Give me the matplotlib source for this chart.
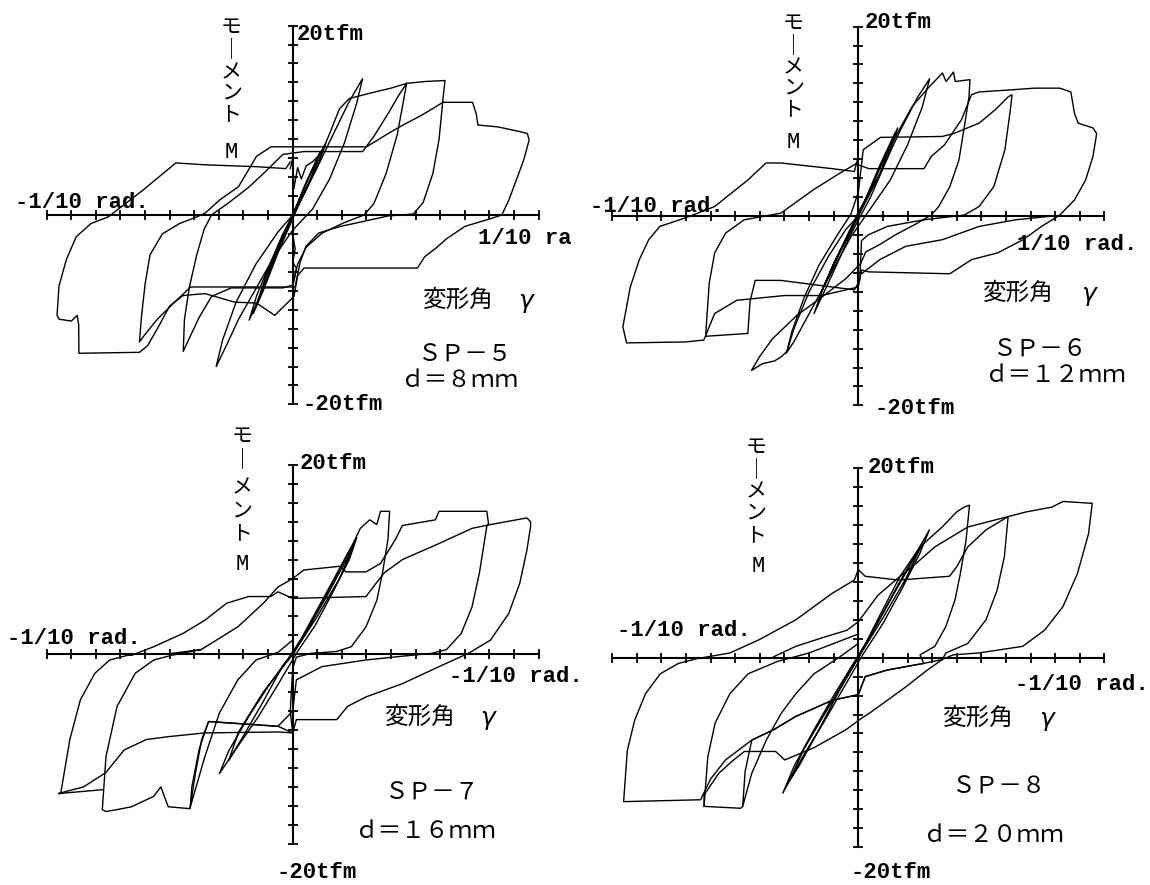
import matplotlib
matplotlib.use("Agg")
import matplotlib.pyplot as plt

# x: deformation angle in 1/100 rad, y: moment in tfm

# ---- SP-5 (d = 8 mm) ----
sp5_small = [(0, 0), (0.5, 3.2), (1.0, 6.0), (1.35, 7.6), (1.05, 5.4), (0.5, 2.4), (0, 0), (-0.5, -3.0),
             (-1.0, -6.4), (-1.4, -9.0), (-1.77, -11.1), (-1.45, -8.4), (-0.9, -5.0), (-0.4, -2.0), (0, 0),
             (0.6, 3.6), (1.1, 6.6), (0.7, 3.6), (0.2, 0.8), (-0.6, -4.0), (-1.2, -8.0), (-1.6, -10.4),
             (-1.1, -6.6), (-0.5, -2.8), (0, 0)]
sp5_spikes = [(-0.1, 4.9), (0.0, 6.0), (0.05, 2.8), (0.2, 5.0), (0.35, 3.8), (0.55, 5.2), (0.8, 5.6), (1.1, 6.4)]
sp5_spikes2 = [(0.0, -2.0), (0.1, -3.6), (0.0, -5.0), (0.15, -5.6), (0.05, -7.0)]
sp5_c1 = [(0, 0), (0.9, 4.5), (1.7, 8.8), (2.3, 12.0), (2.84, 14.4), (2.6, 11.8), (2.1, 7.6), (1.5, 3.8),
          (0.8, 0.6), (0, -1.6), (-0.8, -4.6), (-1.5, -7.8), (-2.2, -11.0), (-2.7, -13.8), (-3.11, -16.0),
          (-2.85, -13.2), (-2.3, -9.2), (-1.5, -5.2), (-0.6, -1.8), (0, 0)]
sp5_c2 = [(0, 0), (0.8, 4.2), (1.5, 8.6), (1.9, 11.2), (2.3, 12.3), (3.2, 12.9), (4.0, 13.4), (4.63, 13.9),
          (4.5, 12.0), (4.25, 8.5), (3.8, 4.4), (3.3, 1.2), (2.9, 0), (2.1, -0.8), (1.2, -1.9), (0.55, -3.4),
          (0.2, -5.2), (0.0, -7.4), (-0.4, -7.7), (-2.5, -7.7), (-3.3, -8.6), (-3.8, -10.8), (-4.2, -13.0),
          (-4.45, -14.4), (-4.4, -11.0), (-4.2, -7.6), (-3.9, -4.2), (-3.6, -1.5), (-3.3, 0), (-2.6, 1.3),
          (-1.8, 2.9), (-1.1, 4.6), (-0.4, 6.4), (0.46, 6.7), (2.84, 6.7), (3.3, 8.3), (3.9, 10.8),
          (4.3, 12.6), (4.63, 13.9)]
sp5_c3 = [(4.63, 13.9), (5.4, 14.1), (6.19, 14.2), (6.1, 12.0), (5.95, 8.0), (5.7, 4.4), (5.3, 1.3),
          (4.9, 0.1), (3.88, -0.1), (2.84, -0.7), (1.95, -1.2), (1.06, -1.9), (0.54, -3.3), (0.3, -5.0),
          (0.1, -7.6), (-1.3, -7.6), (-4.15, -7.6), (-4.8, -9.2), (-5.5, -11.0), (-6.0, -12.6), (-6.23, -13.4),
          (-6.15, -10.8), (-6.0, -7.3), (-5.8, -4.2), (-5.3, -2.0), (-4.6, -0.9), (-3.9, -0.2), (-3.56, 0.2),
          (-2.96, 1.6), (-2.2, 3.0), (-1.47, 6.2), (-0.88, 7.2), (3.0, 7.2), (3.88, 8.6), (4.48, 9.5),
          (5.22, 10.5), (6.11, 11.9), (7.31, 11.9), (7.46, 10.7), (7.53, 9.5), (8.35, 9.3), (9.24, 8.8),
          (9.54, 8.6)]
sp5_c4 = [(9.54, 8.6), (9.61, 7.9), (9.39, 5.8), (9.09, 3.7), (8.79, 1.6), (8.5, 0), (7.9, -0.5), (7.0, -1.2),
          (6.26, -2.5), (5.82, -3.5), (5.37, -4.4), (5.07, -5.6), (0.46, -5.6), (0.2, -6.4), (0.05, -8.6),
          (-0.73, -10.6), (-1.47, -9.3), (-2.37, -9.2), (-3.56, -8.3), (-4.45, -8.5), (-5.0, -9.6),
          (-5.5, -12.0), (-5.9, -13.8), (-6.23, -14.5), (-8.69, -14.6), (-8.7, -11.6), (-8.76, -10.6),
          (-9.0, -11.2), (-9.5, -11.0), (-9.58, -10.6), (-9.5, -7.5), (-9.2, -4.7), (-8.8, -2.3), (-8.2, -0.9),
          (-7.5, -0.2), (-6.1, 2.6), (-4.75, 5.5), (-3.56, 5.3), (-1.47, 5.1), (-0.28, 4.9), (-0.1, 5.6)]

# ---- SP-6 (d = 12 mm) ----
sp6_small = [(0, 0), (0.6, 3.5), (1.2, 7.0), (1.6, 9.3), (1.2, 6.2), (0.5, 2.0), (-0.4, -2.4), (-1.1, -6.4),
             (-1.8, -10.3), (-1.4, -7.4), (-0.7, -3.6), (0, 0), (0.9, 5.5), (1.5, 8.8), (0.9, 4.6), (0, 0.4),
             (-0.9, -4.5), (-1.6, -8.6), (-1.0, -5.0), (0, 0)]
sp6_c1 = [(0, 0), (0.8, 4), (1.7, 9), (2.4, 12.5), (2.9, 14.5), (2.6, 11.5), (2.0, 7.5), (1.3, 3.8), (0.5, 0.8),
          (-0.3, -2.2), (-1.2, -6.5), (-2.1, -10.8), (-2.6, -13.2), (-2.93, -14.5), (-2.6, -11.8), (-2.0, -8.0),
          (-1.2, -4.2), (-0.5, -1.4), (0, 0)]
sp6_c2 = [(0, 0), (0.8, 4.6), (1.6, 8.8), (2.2, 11.6), (2.8, 13.4), (3.42, 15.1), (3.57, 14.2), (3.87, 15.2),
          (3.94, 14.2), (4.54, 14.4), (4.5, 12.6), (4.31, 9.4), (4.09, 5.9), (3.72, 3.1), (3.27, 1.0),
          (2.97, 0.1), (2.3, -0.9), (1.5, -2.0), (0.88, -3.0), (0.3, -3.8), (0.1, -5.0), (-0.5, -6.6),
          (-1.5, -8.6), (-2.5, -10.5), (-3.5, -13.0), (-4.0, -14.8), (-4.34, -16.3), (-3.9, -15.6),
          (-3.4, -15.3), (-3.15, -14.9), (-2.9, -14.3), (-2.7, -12.2), (-2.2, -8.6), (-1.6, -5.2),
          (-0.9, -2.2), (-0.3, 0.2), (0, 2.5)]
sp6_c3 = [(0, 2.5), (0.2, 7.0), (0.9, 8.3), (3.42, 8.4), (3.87, 8.7), (4.91, 9.8), (5.6, 11.3), (6.1, 12.6),
          (6.25, 12.8), (6.18, 11.2), (5.96, 7.0), (5.51, 3.1), (4.91, 1.0), (4.31, 0.1), (2.67, -0.4),
          (1.18, -1.1), (0.4, -2.0), (0.13, -2.6), (0.06, -6.8), (-0.16, -7.8), (-1.06, -7.5), (-2.25, -7.1),
          (-3.15, -6.8), (-4.19, -6.8), (-4.4, -9.0), (-4.49, -12.4), (-6.2, -12.7), (-6.2, -12.4),
          (-6.06, -7.1), (-5.84, -3.9), (-5.39, -1.8), (-4.64, -0.4), (-3.15, 0.3), (-1.81, 2.8),
          (-0.7, 4.6), (-0.1, 5.5)]
sp6_c4 = [(-0.1, 5.5), (0.43, 5.0), (2.67, 5.0), (2.97, 6.3), (3.5, 7.5), (4.2, 10.2), (4.6, 12.8), (4.9, 13.1),
          (6.1, 13.3), (7.15, 13.5), (8.19, 13.5), (8.64, 13.1), (8.79, 10.8), (8.94, 9.8), (9.54, 9.3),
          (9.69, 8.7), (9.54, 6.3), (9.24, 3.8), (8.79, 1.7), (8.19, 0.1), (7.45, -1.1), (6.7, -2.5),
          (5.66, -3.9), (4.61, -4.6), (3.72, -6.1), (0.43, -5.9), (0.13, -5.7), (0.0, -7.5), (-1.5, -8.4),
          (-3.0, -8.4), (-4.94, -8.9), (-5.84, -10.3), (-6.28, -13.1), (-7.03, -13.3), (-9.42, -13.4),
          (-9.57, -11.7), (-9.27, -7.5), (-8.9, -4.6), (-8.52, -2.5), (-8.07, -1.1), (-7.03, -0.2),
          (-5.84, 1.0), (-4.49, 3.8), (-3.75, 5.6), (-3.15, 5.6), (-1.06, 5.0), (-0.16, 4.7), (0.0, 6.3)]
sp6_c5 = [(7.9, 0.0), (6.4, -0.4), (4.91, -1.1), (3.42, -2.5), (1.93, -3.2), (0.88, -4.6), (0.13, -6.1)]

# ---- SP-7 (d = 16 mm) ----
sp7_small = [(0, 0), (0.8, 3.8), (1.6, 7.6), (2.2, 10.5), (2.6, 12.3), (2.3, 10.0), (1.6, 6.4), (0.9, 3.0),
             (0.2, 0.3), (-0.6, -3.2), (-1.4, -6.6), (-2.2, -9.6), (-2.98, -12.6), (-2.6, -10.2), (-1.8, -6.6),
             (-1.0, -3.4), (-0.2, -0.5), (0.6, 2.6), (1.4, 6.2), (2.1, 9.6), (2.5, 11.6), (1.9, 8.0),
             (1.0, 4.0), (0, 0), (-0.4, -1.2), (-1.2, -5.0), (-2.0, -8.6), (-2.6, -11.2), (-2.2, -8.2),
             (-1.2, -4.0), (0, 0)]
sp7_c1 = [(0, 0), (0.9, 4.0), (1.8, 8.4), (2.4, 11.4), (2.75, 13.3), (3.13, 14.2), (3.42, 13.7), (3.57, 15.1),
          (3.94, 15.1), (3.87, 12.1), (3.65, 8.6), (3.42, 5.7), (2.98, 2.9), (2.38, 0.8), (1.79, 0.3),
          (0.74, 0.1), (0.15, -0.3), (0.0, -1.5)]
sp7_c2 = [(0.0, -1.5), (-0.1, -6.0), (0.0, -8.3), (-0.6, -7.6), (-3.42, -7.1), (-3.7, -9.0), (-3.95, -12.5),
          (-4.17, -16.2), (-3.57, -10.8), (-2.98, -6.2), (-2.23, -2.7), (-1.49, -0.6), (-0.6, 0.2), (0, 1.5)]
sp7_c3 = [(-5.2, 0.0), (-3.72, 0.5), (-2.23, 2.9), (-1.19, 5.4), (-0.6, 7.1), (0, 8.0), (0.45, 8.9),
          (1.93, 9.3), (2.16, 8.7), (2.98, 8.7), (3.57, 9.6), (4.17, 12.1), (4.46, 13.6), (5.8, 14.2),
          (5.95, 15.1), (7.89, 15.1), (7.96, 13.8), (7.89, 13.5), (7.59, 8.6), (7.29, 5.0), (6.85, 2.2),
          (6.25, 0.5), (5.65, 0.1), (4.46, -0.2), (2.98, -0.6), (1.19, -1.3), (0.15, -2.7), (0.0, -6.0),
          (-0.6, -7.6), (-3.42, -7.1), (-3.8, -10.0), (-4.1, -14.0), (-4.17, -16.3), (-5.06, -16.1),
          (-5.36, -14.0), (-5.65, -15.0), (-6.55, -16.1), (-7.14, -16.4), (-7.59, -16.6), (-7.74, -16.4),
          (-7.59, -10.8), (-7.14, -5.5), (-6.4, -2.0), (-5.65, -0.6), (-4.91, -0.1), (-3.72, 0.5)]
sp7_c4 = [(-6.55, -0.1), (-5.65, 0.8), (-4.46, 2.2), (-3.57, 3.6), (-2.68, 5.4), (-1.79, 6.1), (-0.89, 6.1),
          (-0.6, 6.6), (0, 5.9), (2.98, 6.1), (3.27, 7.1), (3.72, 8.6), (4.46, 10.0), (5.95, 11.7),
          (7.29, 13.3), (8.04, 13.7), (9.52, 14.4), (9.67, 14.0), (9.67, 13.5), (9.52, 11.0), (9.23, 7.5),
          (8.78, 4.3), (8.04, 1.5), (7.14, 0.1), (5.95, -1.3), (4.46, -3.1), (2.98, -4.5), (2.23, -5.5),
          (1.79, -6.9), (0.52, -6.9), (0.15, -6.9), (0.0, -8.3), (-0.6, -8.2), (-3.57, -8.3), (-5.06, -8.7),
          (-5.95, -9.0), (-6.85, -10.1), (-7.6, -12.5), (-8.5, -14.0), (-9.52, -14.7), (-9.43, -14.7),
          (-9.06, -9.0), (-8.63, -4.8), (-8.04, -2.0), (-7.44, -0.6), (-6.7, -0.1), (-6.55, -0.1)]
sp7_c5 = [(-9.5, -14.7), (-7.74, -14.3)]

# ---- SP-8 (d = 20 mm) ----
sp8_small = [(0, 0), (0.8, 3.8), (1.6, 7.6), (2.3, 10.8), (2.89, 13.5), (2.5, 11.0), (1.8, 7.4), (1.0, 3.6),
             (0.2, 0.4), (-0.6, -3.2), (-1.4, -6.8), (-2.2, -10.2), (-3.07, -14.3), (-2.6, -11.4),
             (-1.8, -7.6), (-1.0, -4.0), (-0.2, -0.6), (0.6, 2.8), (1.5, 7.0), (2.2, 10.2), (2.6, 12.0),
             (1.9, 8.2), (1.0, 4.2), (0, 0), (-0.8, -3.6), (-1.6, -7.6), (-2.4, -11.4), (-2.8, -13.0),
             (-2.2, -9.6), (-1.2, -5.2), (0, 0)]
sp8_c1 = [(0, 0), (0.9, 4.6), (1.7, 8.6), (2.51, 11.7), (3.41, 13.8), (4.0, 15.4), (4.3, 15.9), (4.52, 16.1),
          (4.38, 12.4), (4.15, 8.9), (3.93, 6.1), (3.56, 3.3), (3.11, 1.2), (2.51, 0.3), (2.66, -0.6),
          (1.18, -1.3), (0.28, -2.0), (0, -3.9), (-1.06, -4.5), (-2.54, -6.2), (-3.44, -7.6), (-4.33, -8.7),
          (-4.6, -12.0), (-4.7, -15.7), (-4.33, -12.2), (-3.74, -8.7), (-3.14, -5.9), (-2.54, -3.8),
          (-1.8, -1.7), (-0.8, 0), (0, 1.5)]
sp8_c2 = [(-3.44, 0.1), (-2.54, 1.2), (-1.35, 2.2), (-0.46, 2.9), (0, 3.8), (0.8, 6.6), (1.7, 8.6),
          (2.37, 10.0), (3.11, 11.7), (4.45, 13.8), (6.09, 14.9), (5.94, 10.7), (5.64, 7.1), (5.19, 4.0),
          (4.45, 1.5), (3.56, 0.5), (3.41, -0.2), (2.81, -1.3), (1.92, -3.1), (1.18, -4.5), (0.43, -5.9),
          (0.13, -6.4), (-0.5, -7.6), (-1.8, -9.5), (-2.99, -10.8), (-3.36, -9.9), (-4.63, -9.9),
          (-5.07, -10.8), (-5.67, -12.2), (-6.27, -14.5), (-6.27, -15.7), (-4.78, -15.9), (-4.7, -15.7)]
sp8_c3 = [(-6.27, -15.7), (-6.12, -10.5), (-5.82, -6.9), (-5.22, -3.8), (-4.48, -1.7), (-3.29, -0.4),
          (-2.0, 0.5), (-1.0, 1.5), (0, 2.5)]
sp8_c4 = [(0, 9.3), (0.28, 8.6), (1.62, 8.2), (3.71, 8.6), (4.0, 9.6), (4.45, 11.7), (5.19, 13.5),
          (6.09, 14.9), (6.83, 15.4), (7.87, 15.9), (8.32, 16.5), (9.51, 16.3), (9.36, 13.1), (8.91, 8.9),
          (8.32, 5.4), (7.57, 2.9), (6.68, 1.2), (4.9, 0.5), (3.85, 0.3), (3.41, -0.2), (2.66, -0.6),
          (1.18, -1.3), (0.28, -2.0), (0, -3.9), (-1.06, -4.5), (-2.54, -6.2), (-3.44, -7.6), (-4.33, -8.7),
          (-5.4, -10.8), (-6.0, -12.8), (-6.41, -15.0), (-9.54, -15.2), (-9.39, -9.8), (-9.09, -6.6),
          (-8.65, -3.8), (-8.05, -1.7), (-7.31, -0.6), (-6.56, -0.1), (-5.22, 0.5), (-4.03, 1.9),
          (-2.54, 4.0), (-1.06, 6.8), (-0.16, 8.2), (0, 9.3)]

sp5_loops = [sp5_small, sp5_spikes, sp5_spikes2, sp5_c1, sp5_c2, sp5_c3, sp5_c4]
sp6_loops = [sp6_small, sp6_c1, sp6_c2, sp6_c3, sp6_c4, sp6_c5]
sp7_loops = [sp7_small, sp7_c1, sp7_c2, sp7_c3, sp7_c4, sp7_c5]
sp8_loops = [sp8_small, sp8_c1, sp8_c2, sp8_c3, sp8_c4]

W, H = 1150, 885
UX, UY = 24.6, 9.47  # px per 1/100 rad, px per tfm

plt.rcParams['font.family'] = ['Noto Sans CJK JP', 'DejaVu Sans']
fig = plt.figure(figsize=(W / 100, H / 100), dpi=100)
fig.patch.set_facecolor('white')

LAT = ['Liberation Mono', 'DejaVu Sans Mono']


def panel(cx, cy, loops):
    ax = fig.add_axes([(cx - 11.5 * UX) / W, 1 - (cy + 22 * UY) / H, 23 * UX / W, 44 * UY / H])
    ax.patch.set_alpha(0)
    ax.set_xlim(-11.5, 11.5)
    ax.set_ylim(-22, 22)
    for s in ['top', 'right']:
        ax.spines[s].set_visible(False)
    ax.spines['left'].set_position(('data', 0))
    ax.spines['bottom'].set_position(('data', 0))
    ax.spines['left'].set_bounds(-20, 20)
    ax.spines['bottom'].set_bounds(-10, 10)
    for s in ['left', 'bottom']:
        ax.spines[s].set_linewidth(1.5)
    ax.set_xticks(range(-10, 11))
    ax.set_yticks(range(-20, 21, 2))
    ax.tick_params(direction='inout', length=7, width=1.3, labelbottom=False, labelleft=False)
    for lp in loops:
        xs, ys = zip(*lp)
        ax.plot(xs, ys, color='black', lw=1.0)
    return ax


def put(x, y, s, size, fam=None, ha='left', **kw):
    fig.text(x / W, 1 - y / H, s, fontsize=size, ha=ha, va='center',
             family=fam if fam else ['Noto Sans CJK JP', 'DejaVu Sans'], **kw)


def vlabel(x, ys):
    for ch, y in zip(['モ', '｜', 'メ', 'ン', 'ト'], ys):
        put(x, y, ch, 15, ha='center')


def gamma_label(x, y, gx):
    put(x, y, '変形角', 17)
    put(gx, y + 2, r'$\gamma$', 18, ha='center')


panel(292.7, 215, sp5_loops)
panel(858.3, 216, sp6_loops)
panel(292.7, 654.3, sp7_loops)
panel(858.3, 657.7, sp8_loops)

# SP-5
put(297, 35, '20tfm', 16, LAT, weight='bold')
put(302, 404, '-20tfm', 16, LAT, weight='bold')
vlabel(231, [27, 49, 72, 93, 114])
put(231, 152, 'M', 16, LAT, ha='center')
put(15, 202, '-1/10 rad.', 16, LAT, weight='bold')
put(478, 239, '1/10 ra', 16, LAT, weight='bold')
gamma_label(423, 300, 527)
put(418, 355, 'ＳＰ－５', 17)
put(401, 380, 'ｄ＝８ｍｍ', 17)

# SP-6
put(865, 23, '20tfm', 16, LAT, weight='bold')
put(875, 408, '-20tfm', 16, LAT, weight='bold')
vlabel(793, [23, 45, 67, 88, 109])
put(793, 143, 'M', 16, LAT, ha='center')
put(590, 207, '-1/10 rad.', 16, LAT, weight='bold')
put(1017, 245, '1/10 rad.', 16, LAT, weight='bold')
gamma_label(983, 293, 1090)
put(993, 350, 'ＳＰ－６', 17)
put(985, 375, 'ｄ＝１２ｍｍ', 17)

# SP-7
put(300, 463, '20tfm', 16, LAT, weight='bold')
put(277, 873, '-20tfm', 16, LAT, weight='bold')
vlabel(242, [436, 459, 487, 511, 533])
put(242, 565, 'M', 16, LAT, ha='center')
put(7, 638, '-1/10 rad.', 16, LAT, weight='bold')
put(449, 677, '-1/10 rad.', 16, LAT, weight='bold')
gamma_label(385, 717, 489)
put(385, 793, 'ＳＰ－７', 17)
put(355, 832, 'ｄ＝１６ｍｍ', 17)

# SP-8
put(868, 467, '20tfm', 16, LAT, weight='bold')
put(850, 873, '-20tfm', 16, LAT, weight='bold')
vlabel(756, [447, 469, 491, 513, 535])
put(758, 567, 'M', 16, LAT, ha='center')
put(617, 630, '-1/10 rad.', 16, LAT, weight='bold')
put(1015, 685, '-1/10 rad.', 16, LAT, weight='bold')
gamma_label(943, 718, 1048)
put(952, 787, 'ＳＰ－８', 17)
put(923, 835, 'ｄ＝２０ｍｍ', 17)

fig.savefig('out.png', dpi=100)
